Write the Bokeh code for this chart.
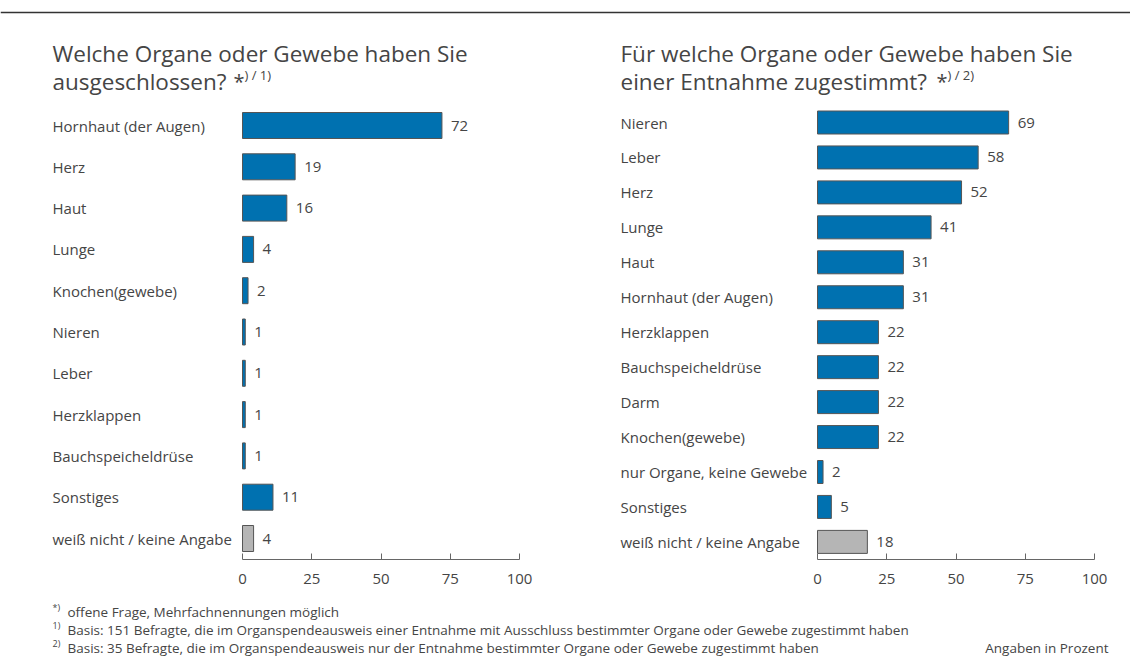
from bokeh.plotting import figure
from bokeh.layouts import column, row
from bokeh.models import ColumnDataSource, FixedTicker, Range1d
from bokeh.core.properties import value
from bokeh.embed import file_html
from bokeh.resources import INLINE

# ---------------- data ----------------
left_categories = ["Hornhaut (der Augen)", "Herz", "Haut", "Lunge", "Knochen(gewebe)",
                   "Nieren", "Leber", "Herzklappen", "Bauchspeicheldrüse", "Sonstiges",
                   "weiß nicht / keine Angabe"]
left_values = [72, 19, 16, 4, 2, 1, 1, 1, 1, 11, 4]
left_grey = [False] * 10 + [True]

right_categories = ["Nieren", "Leber", "Herz", "Lunge", "Haut", "Hornhaut (der Augen)",
                    "Herzklappen", "Bauchspeicheldrüse", "Darm", "Knochen(gewebe)",
                    "nur Organe, keine Gewebe", "Sonstiges", "weiß nicht / keine Angabe"]
right_values = [69, 58, 52, 41, 31, 31, 22, 22, 22, 22, 2, 5, 18]
right_grey = [False] * 12 + [True]

left_title = ["Welche Organe oder Gewebe haben Sie", "ausgeschlossen?"]
left_title_note = ") / 1)"
right_title = ["Für welche Organe oder Gewebe haben Sie", "einer Entnahme zugestimmt?"]
right_title_note = ") / 2)"

tick_values = [0, 25, 50, 75, 100]

footnote_marks = ["*)", "1)", "2)"]
footnote_texts = ["offene Frage, Mehrfachnennungen möglich",
                  "Basis: 151 Befragte, die im Organspendeausweis einer Entnahme mit Ausschluss bestimmter Organe oder Gewebe zugestimmt haben",
                  "Basis: 35 Befragte, die im Organspendeausweis nur der Entnahme bestimmter Organe oder Gewebe zugestimmt haben"]
unit_note = "Angaben in Prozent"

# ---------------- style ----------------
FONT = value("Open Sans")
TXT = "#454545"
BLUE = "#0071B0"
GREY = "#B5B5B5"
EDGE = "#555555"
TOTAL_W = 1130
HEAD_H = 20
PANEL_TOP = HEAD_H
PANEL_H = 580
AXIS_H = 41
PX_PER_UNIT = 2.77


def panel(x0_page, width, zero_px, label_px, row0_px, row_step, cats, vals, grey,
          title_lines, note, note_x_page, bar_h):
    frame_bottom_page = PANEL_TOP + PANEL_H - AXIS_H

    def px2x(px):
        return (px - zero_px) / PX_PER_UNIT

    def px2y(py):
        return (py - row0_px) / row_step

    p = figure(width=width, height=PANEL_H, output_backend="svg", toolbar_location=None,
               x_range=Range1d(px2x(x0_page), px2x(x0_page + width)),
               y_range=Range1d(px2y(frame_bottom_page), px2y(PANEL_TOP)),
               min_border=0, min_border_left=0, min_border_right=0, min_border_top=0,
               min_border_bottom=AXIS_H, background_fill_color="white",
               border_fill_color="white", outline_line_color=None)
    p.yaxis.visible = False
    p.xgrid.visible = False
    p.ygrid.visible = False

    ax = p.xaxis[0]
    ax.ticker = FixedTicker(ticks=tick_values)
    ax.bounds = (0, 100)
    ax.major_tick_in = 6
    ax.major_tick_out = 0
    ax.minor_tick_line_color = None
    ax.axis_line_color = "#666666"
    ax.major_tick_line_color = "#666666"
    ax.major_label_text_font = "Open Sans"
    ax.major_label_text_font_size = "15px"
    ax.major_label_text_color = TXT
    ax.major_label_standoff = 14

    ys = list(range(len(cats)))
    src = ColumnDataSource(dict(
        y=ys, v=vals, cat=cats,
        color=[GREY if g else BLUE for g in grey],
        lbl=[str(v) for v in vals],
        lx=[v + 9 / PX_PER_UNIT for v in vals],
        cx=[px2x(label_px)] * len(cats),
    ))
    p.hbar(y="y", left=0, right="v", height=bar_h / row_step, source=src,
           fill_color="color", line_color=EDGE, line_width=1)
    p.text(x="lx", y="y", text="lbl", source=src, text_font=FONT,
           text_font_size="15px", text_color=TXT, text_baseline="middle")
    p.text(x="cx", y="y", text="cat", source=src, text_font=FONT,
           text_font_size="15px", text_color=TXT, text_baseline="middle")

    # title
    tx = px2x(label_px)
    p.text(x=[tx, tx], y=[px2y(53), px2y(81)], text=title_lines, text_font=FONT,
           text_font_size="22.5px", text_color=TXT, text_baseline="middle")
    p.text(x=[px2x(note_x_page)], y=[px2y(81)], text=["*"], text_font=FONT,
           text_font_size="20px", text_color=TXT, text_baseline="middle")
    p.text(x=[px2x(note_x_page + 11)], y=[px2y(74)], text=[note], text_font=FONT,
           text_font_size="13px", text_color=TXT, text_baseline="middle")
    return p


# header rule
head = figure(width=TOTAL_W, height=HEAD_H, output_backend="svg", toolbar_location=None,
              x_range=Range1d(0, TOTAL_W), y_range=Range1d(HEAD_H, 0),
              min_border=0, outline_line_color=None)
head.axis.visible = False
head.grid.visible = False
head.segment(x0=[0], x1=[TOTAL_W], y0=[12], y1=[12], line_color="#333333", line_width=1.5)

left = panel(0, 568, 242, 52, 125, 41.3, left_categories, left_values, left_grey,
             left_title, left_title_note, 233, 26)
right = panel(568, TOTAL_W - 568, 817, 620, 122, 34.95, right_categories, right_values,
              right_grey, right_title, right_title_note, 936, 23)

# footer
FOOT_TOP = PANEL_TOP + PANEL_H
foot = figure(width=TOTAL_W, height=64, output_backend="svg", toolbar_location=None,
              x_range=Range1d(0, TOTAL_W), y_range=Range1d(FOOT_TOP + 64, FOOT_TOP),
              min_border=0, outline_line_color=None)
foot.axis.visible = False
foot.grid.visible = False
fy = [611, 629, 647]
foot.text(x=[52] * 3, y=[y - 4 for y in fy], text=footnote_marks, text_font=FONT,
          text_font_size="9px", text_color=TXT, text_baseline="middle")
foot.text(x=[67, 67, 67], y=fy, text=footnote_texts, text_font=FONT,
          text_font_size="13.5px", text_color=TXT, text_baseline="middle")
foot.text(x=[1108], y=[647], text=[unit_note], text_font=FONT,
          text_font_size="13.5px", text_color=TXT, text_baseline="middle", text_align="right")

layout = column(head, row(left, right, spacing=0), foot, spacing=0)
open("out.html", "w").write(file_html(layout, INLINE))
